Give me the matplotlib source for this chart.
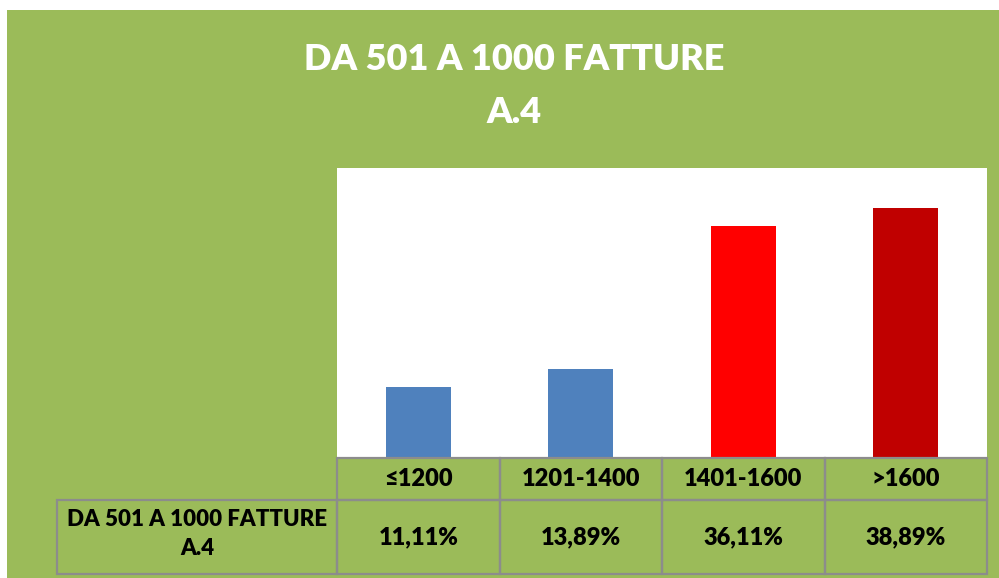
import matplotlib.pyplot as plt
from matplotlib.patches import Rectangle

categories = ['≤1200', '1201-1400', '1401-1600', '>1600']
values = [11.11, 13.89, 36.11, 38.89]
value_labels = ['11,11%', '13,89%', '36,11%', '38,89%']
series_name = 'DA 501 A 1000 FATTURE\nA.4'
title = 'DA 501 A 1000 FATTURE\nA.4'
bar_colors = ['#4F81BD', '#4F81BD', '#FF0000', '#C00000']

W, H = 999, 578
green = '#9BBB59'
border = '#8C8C8C'
font = ['Lato', 'DejaVu Sans']

fig = plt.figure(figsize=(W / 100, H / 100), dpi=100)
fig.patch.set_facecolor('white')

def fx(px):
    return px / W

def fy(py):
    return 1 - py / H

# green chart background
fig.patches.append(Rectangle((fx(7), 0), 1 - fx(7), fy(10), transform=fig.transFigure,
                             facecolor=green, edgecolor='none', zorder=-5))

# title
fig.text(fx(514), fy(86), title, ha='center', va='center', color='white',
         fontsize=26, fontweight='heavy', family=font, linespacing=1.75)

# plot area
left, right, top, bottom = 337, 987, 168, 458
ax = fig.add_axes([fx(left), fy(bottom), fx(right - left), (bottom - top) / H])
ax.set_zorder(2)
ax.set_facecolor('white')
ax.bar(range(len(categories)), values, width=0.4, color=bar_colors)
ax.set_xlim(-0.5, len(categories) - 0.5)
ax.set_ylim(0, 45.1)
ax.set_xticks([])
ax.set_yticks([])
for s in ax.spines.values():
    s.set_visible(False)

# data table below
col_w = (right - left) / len(categories)
row1 = (458, 500)
row2 = (500, 574)

def cell(x0, x1, y0, y1):
    fig.patches.append(Rectangle((fx(x0), fy(y1)), fx(x1 - x0), (y1 - y0) / H,
                                 transform=fig.transFigure, facecolor='none',
                                 edgecolor=border, linewidth=1.6, zorder=3))

for i, (cat, lab) in enumerate(zip(categories, value_labels)):
    x0 = left + i * col_w
    x1 = x0 + col_w
    cell(x0, x1, *row1)
    cell(x0, x1, *row2)
    fig.text(fx((x0 + x1) / 2), fy(sum(row1) / 2), cat, ha='center', va='center',
             fontsize=17, fontweight='heavy', family=font)
    fig.text(fx((x0 + x1) / 2), fy(sum(row2) / 2), lab, ha='center', va='center',
             fontsize=17, fontweight='heavy', family=font)

cell(57, left, *row2)
fig.text(fx((57 + left) / 2), fy(534), series_name, ha='center', va='center',
         fontsize=16, fontweight='heavy', family=font, linespacing=1.5)

fig.savefig('out.png', dpi=100, facecolor=fig.get_facecolor())
